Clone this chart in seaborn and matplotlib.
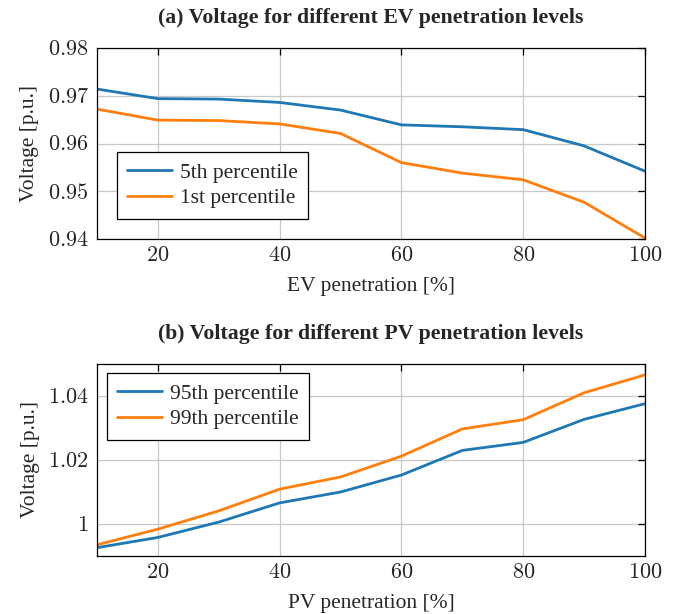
import pandas as pd
import matplotlib.pyplot as plt
import seaborn as sns
from matplotlib.ticker import FuncFormatter

# penetration levels [%]
pen = [10, 20, 30, 40, 50, 60, 70, 80, 90, 100]

# (a) EV penetration - low voltage percentiles
ev_p5 = [0.9714, 0.9694, 0.9693, 0.9686, 0.9670, 0.9639, 0.9635, 0.9629, 0.9595, 0.9542]
ev_p1 = [0.9672, 0.9649, 0.9648, 0.9641, 0.9621, 0.9560, 0.9538, 0.9524, 0.9477, 0.9402]

# (b) PV penetration - high voltage percentiles
pv_p95 = [0.9926, 0.9958, 1.0006, 1.0066, 1.0100, 1.0153, 1.0230, 1.0255, 1.0327, 1.0376]
pv_p99 = [0.9935, 0.9984, 1.0041, 1.0109, 1.0147, 1.0212, 1.0297, 1.0326, 1.0410, 1.0466]

sns.set_style("white")
plt.rcParams['font.family'] = ['Liberation Serif', 'DejaVu Serif']
plt.rcParams['mathtext.fontset'] = 'cm'

colors = ['#1f77b4', '#ff7f0e']

ev_df = pd.DataFrame({
    'pen': pen * 2,
    'v': ev_p5 + ev_p1,
    'series': ['5th percentile'] * len(pen) + ['1st percentile'] * len(pen),
})
pv_df = pd.DataFrame({
    'pen': pen * 2,
    'v': pv_p95 + pv_p99,
    'series': ['95th percentile'] * len(pen) + ['99th percentile'] * len(pen),
})

fig = plt.figure(figsize=(6.85, 6.14), dpi=100)
W, H = 685, 614
ax1 = fig.add_axes([97 / W, 1 - 239 / H, 548 / W, 191 / H])
ax2 = fig.add_axes([97 / W, 1 - 556 / H, 548 / W, 192 / H])


def tick_fmt(v, pos):
    s = f'{v:.2f}'.rstrip('0').rstrip('.')
    return f'${s}$'


def style_ax(ax, xlabel, title):
    ax.set_xlim(10, 100)
    ax.set_xticks([20, 40, 60, 80, 100])
    ax.xaxis.set_major_formatter(FuncFormatter(lambda v, p: f'${int(v)}$'))
    ax.yaxis.set_major_formatter(FuncFormatter(tick_fmt))
    ax.grid(True, color='#c8c8c8', linewidth=0.9)
    ax.set_axisbelow(True)
    ax.tick_params(direction='in', top=True, right=True, length=5,
                   width=0.9, labelsize=16, color='black', pad=6)
    for s in ax.spines.values():
        s.set_color('black')
        s.set_linewidth(0.9)
    ax.set_xlabel(xlabel, fontsize=15.5, labelpad=8)
    ax.set_ylabel('Voltage [p.u.]', fontsize=15.5, labelpad=6)
    ax.set_title(title, fontsize=15.7, fontweight='bold', pad=18)


leg_kw = dict(borderaxespad=0, fontsize=15.5, fancybox=False, edgecolor='black',
              framealpha=1, handlelength=2.05, handletextpad=0.37,
              borderpad=0.5, labelspacing=0.25)

sns.lineplot(data=ev_df, x='pen', y='v', hue='series', palette=colors,
             linewidth=2, ax=ax1)
ax1.set_ylim(0.94, 0.98)
ax1.set_yticks([0.94, 0.95, 0.96, 0.97, 0.98])
style_ax(ax1, 'EV penetration [%]', '(a) Voltage for different EV penetration levels')
leg1 = ax1.legend(loc='lower left', bbox_to_anchor=(0.036, 0.105), **leg_kw)
leg1.get_frame().set_linewidth(0.9)

sns.lineplot(data=pv_df, x='pen', y='v', hue='series', palette=colors,
             linewidth=2, ax=ax2)
ax2.set_ylim(0.99, 1.05)
ax2.set_yticks([1.0, 1.02, 1.04])
style_ax(ax2, 'PV penetration [%]', '(b) Voltage for different PV penetration levels')
leg2 = ax2.legend(loc='upper left', bbox_to_anchor=(0.0177, 0.953), **leg_kw)
leg2.get_frame().set_linewidth(0.9)

fig.savefig('out.png', dpi=100)
